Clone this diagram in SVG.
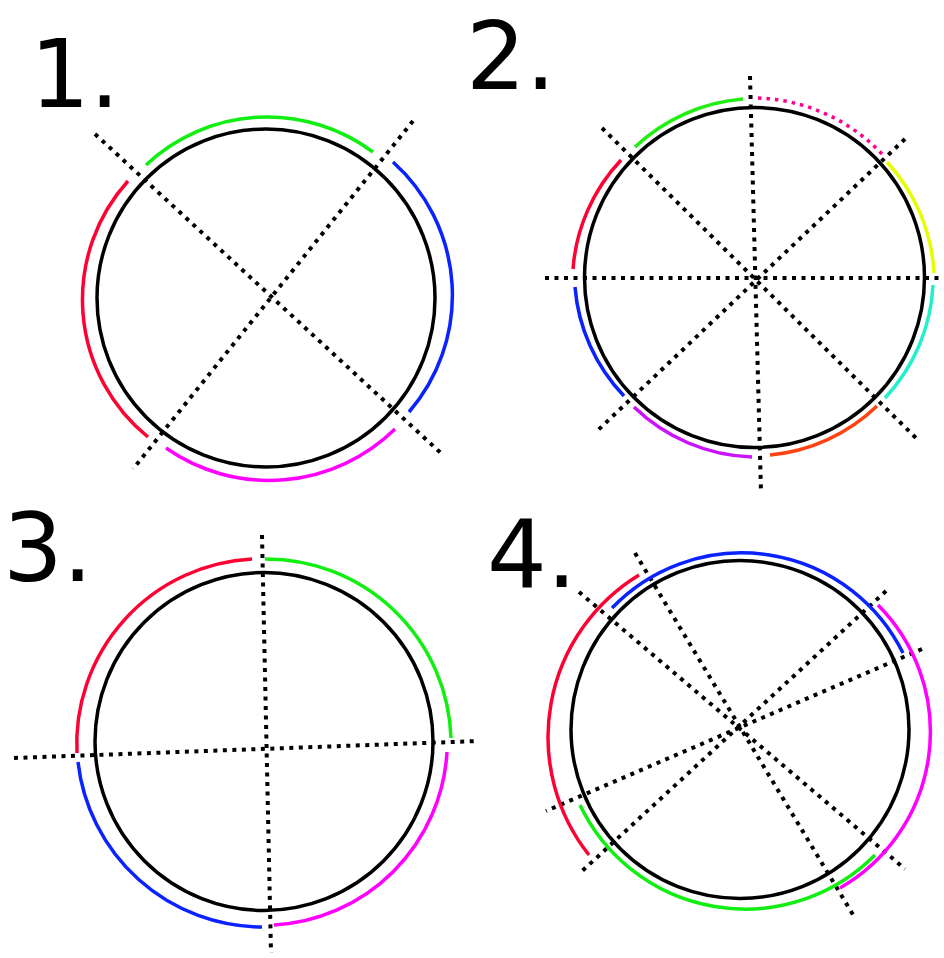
<svg xmlns="http://www.w3.org/2000/svg" width="944" height="958" viewBox="0 0 944 958">
<style>
.lbl{font-family:"DejaVu Sans",sans-serif;font-size:94px;fill:#000}
.circ{fill:none;stroke:#000;stroke-width:3.5}
.dot{fill:none;stroke:#000;stroke-width:4;stroke-dasharray:4 5.5}
.arc{fill:none;stroke-width:3.5;stroke-linecap:butt}
</style>
<rect width="944" height="958" fill="#fff"/>
<text class="lbl" x="30" y="107">1.</text>
<text class="lbl" x="466" y="89">2.</text>
<text class="lbl" x="3" y="581">3.</text>
<text class="lbl" x="487" y="587">4.</text>

<g id="connectors">
  <line class="dot" x1="95" y1="134" x2="443" y2="455"/>
  <line class="dot" x1="413" y1="121" x2="133" y2="469"/>
  <line class="dot" x1="750" y1="76" x2="761" y2="492"/>
  <line class="dot" x1="545" y1="278" x2="944" y2="278"/>
  <line class="dot" x1="602" y1="128" x2="919" y2="441"/>
  <line class="dot" x1="905" y1="139" x2="595" y2="433"/>
  <line class="dot" x1="262" y1="535" x2="271" y2="953"/>
  <line class="dot" x1="14" y1="758" x2="479" y2="741"/>
  <line class="dot" x1="635" y1="553" x2="855" y2="918"/>
  <line class="dot" x1="579" y1="592" x2="905" y2="869"/>
  <line class="dot" x1="886" y1="591" x2="580" y2="873"/>
  <line class="dot" x1="922" y1="649" x2="546" y2="811"/>
</g>

<g id="circle1">
  <circle class="circ" cx="266" cy="298" r="169"/>
  <path class="arc" stroke="#11ee11" d="M146,165 A177,177 0 0 1 373,152"/>
  <path class="arc" stroke="#0a22ff" d="M393,162 A179,179 0 0 1 409,412"/>
  <path class="arc" stroke="#ff00ff" d="M395,429 A180,180 0 0 1 166,448"/>
  <path class="arc" stroke="#ff0033" d="M148,437 A177,177 0 0 1 128,181"/>
</g>

<g id="circle2">
  <circle class="circ" cx="754.5" cy="277.5" r="170"/>
  <path class="arc" stroke="#22ee11" d="M635,147 A179,179 0 0 1 743,99"/>
  <path class="arc" stroke="#ff0088" stroke-dasharray="3.5 5" d="M758,98 A179,179 0 0 1 882,154"/>
  <path class="arc" stroke="#e6ff00" d="M887,162 A178,178 0 0 1 934,273"/>
  <path class="arc" stroke="#22f0cc" d="M933,285 A178,178 0 0 1 885,398"/>
  <path class="arc" stroke="#ff4411" d="M877,406 A178,178 0 0 1 770,455"/>
  <path class="arc" stroke="#cc11ff" d="M752,457 A178,178 0 0 1 634,407"/>
  <path class="arc" stroke="#0a22ff" d="M624,396 A178,178 0 0 1 575,287"/>
  <path class="arc" stroke="#ff0033" d="M573,269 A179,179 0 0 1 621,160"/>
</g>

<g id="circle3">
  <circle class="circ" cx="264" cy="741.5" r="169"/>
  <path class="arc" stroke="#ff0033" d="M77,753 A185,185 0 0 1 252,559"/>
  <path class="arc" stroke="#11ee11" d="M265,559 A185,185 0 0 1 451,738"/>
  <path class="arc" stroke="#ff00ff" d="M447,752 A184,184 0 0 1 274,925"/>
  <path class="arc" stroke="#0a22ff" d="M262,927 A186,186 0 0 1 78,762"/>
</g>

<g id="circle4">
  <circle class="circ" cx="740" cy="729.5" r="169"/>
  <path class="arc" stroke="#ff0033" d="M589,855 A190,190 0 0 1 639,575"/>
  <path class="arc" stroke="#0a22ff" d="M612,608 A180,180 0 0 1 903,653"/>
  <path class="arc" stroke="#ff00ff" d="M878,605 A180,180 0 0 1 840,888"/>
  <path class="arc" stroke="#11ee11" d="M875,855 A183,183 0 0 1 580,805"/>
</g>
</svg>
